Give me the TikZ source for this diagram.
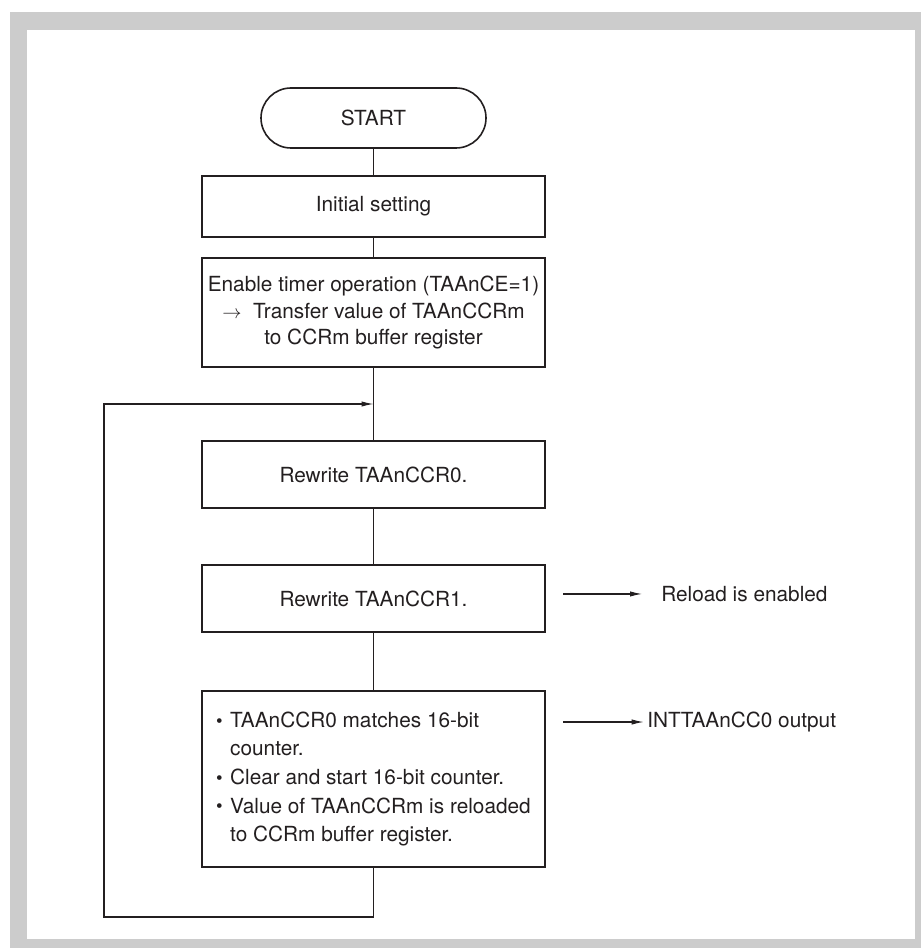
\documentclass[tikz,border=0pt]{standalone}
\usepackage{fontspec}
\setmainfont{TeX Gyre Heros}
\usetikzlibrary{arrows.meta,positioning}
\definecolor{ink}{HTML}{231F20}
\definecolor{bordergray}{HTML}{CCCCCC}
\newcommand{\bul}{\makebox[10.5pt][l]{\raisebox{0.3pt}{\fontsize{14}{14}\selectfont\textbullet}}}

\begin{document}
\begin{tikzpicture}[
  x=0.75pt, y=-0.75pt,
  font=\fontsize{15.6}{20}\selectfont,
  text=ink,
  box/.style={draw=ink, line width=1.5pt, outer sep=0pt, inner sep=0pt, minimum width=257.25pt, align=center},
  terminal/.style={draw=ink, line width=1.2pt, outer sep=0pt, rounded corners=22.5pt, minimum width=168.75pt, minimum height=45pt},
  flow/.style={draw=ink, line width=0.8pt},
  arrow/.style={flow, -{Latex[length=9pt,width=4pt]}},
  note/.style={anchor=west, inner sep=0pt}
]
  % frame
  \useasboundingbox (0,0) rectangle (921,948);
  \fill[bordergray] (10,12) rectangle (921,948);
  \fill[white] (27,30) rectangle (915,939);

  \node[terminal] (start) at (373.5,118) {START};
  \node[box, minimum height=45.75pt, below=21pt of start] (init) {Initial setting};
  \node[box, minimum height=81.75pt, below=15.75pt of init] (enable) {Enable timer operation (TAAnCE=1)\\$\rightarrow$\ \ Transfer value of TAAnCCRm\\to CCRm buffer register};
  \node[box, minimum height=50.25pt, below=55.5pt of enable] (rw0) {Rewrite TAAnCCR0.};
  \node[box, minimum height=50.25pt, below=42.75pt of rw0] (rw1) {Rewrite TAAnCCR1.};
  \node[box, minimum height=132pt, align=left,
        font=\fontsize{15.6}{21.4}\selectfont, below=44.25pt of rw1] (match)
    {\bul TAAnCCR0 matches 16-bit\\\hphantom{\bul}counter.\\\bul Clear and start 16-bit counter.\\\bul Value of TAAnCCRm is reloaded\\\hphantom{\bul}to CCRm buffer register.};

  \node[note] (reload) at ([xshift=87pt, yshift=3.4pt]rw1.east) {Reload is enabled};
  \node[note] (intout) at ([xshift=76.5pt, yshift=-23.25pt]match.north east) {INTTAAnCC0 output};

  \coordinate (reloadfrom) at ([xshift=13.5pt]rw1.east |- reload.west);
  \coordinate (intfrom) at ([xshift=13.5pt]match.east |- intout.west);
  \coordinate (loopin) at ([yshift=-27.75pt]enable.south);
  \coordinate (loopbot) at ([yshift=-37.5pt]match.south);
  \coordinate (loopleft) at ([xshift=-73.5pt]match.west);

  \draw[flow] (start) -- (init);
  \draw[flow] (init) -- (enable);
  \draw[flow] (enable) -- (rw0);
  \draw[flow] (rw0) -- (rw1);
  \draw[flow] (rw1) -- (match);

  \draw[arrow] (match.south) -- (loopbot) -| (loopleft |- loopin) -- (loopin);
  \draw[arrow, shorten >=14.25pt] (reloadfrom) -- (reload.west);
  \draw[arrow, shorten >=2.5pt] (intfrom) -- (intout.west);
\end{tikzpicture}
\end{document}
